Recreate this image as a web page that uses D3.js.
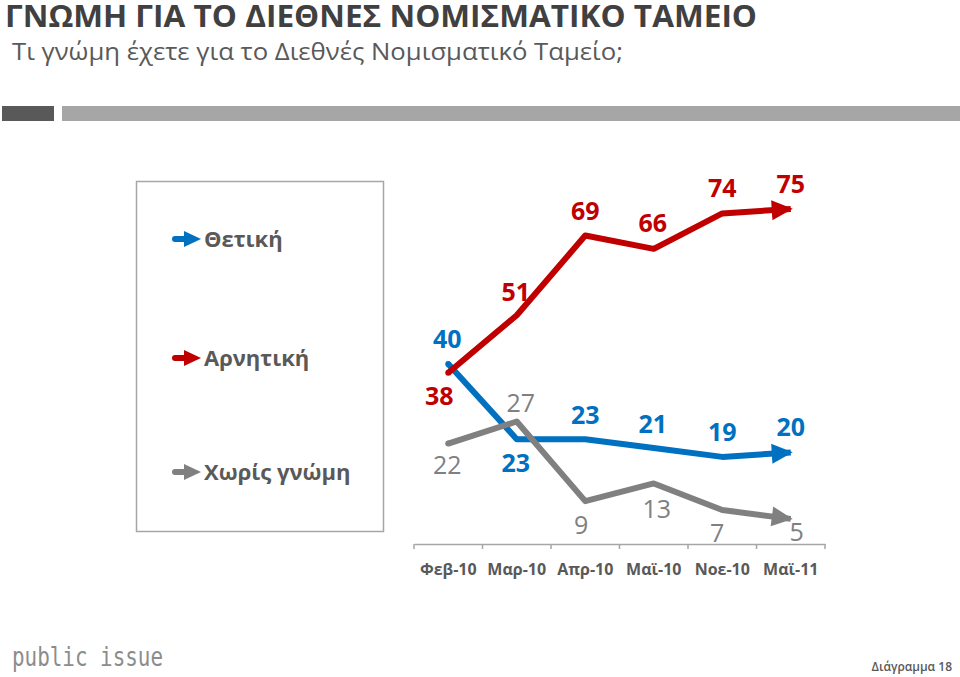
<!DOCTYPE html>
<html><head><meta charset="utf-8">
<script src="https://cdn.jsdelivr.net/npm/d3@7"></script>
<style>body{margin:0;background:#fff}svg{display:block}</style>
</head><body>
<script>
const categories = ["Φεβ-10","Μαρ-10","Απρ-10","Μαϊ-10","Νοε-10","Μαϊ-11"];
const seriesNames = ["Θετική","Αρνητική","Χωρίς γνώμη"];
const positive = [40,23,23,21,19,20];
const negative = [38,51,69,66,74,75];
const noOpinion = [22,27,9,13,7,5];
const title = "ΓΝΩΜΗ ΓΙΑ ΤΟ ΔΙΕΘΝΕΣ ΝΟΜΙΣΜΑΤΙΚΟ ΤΑΜΕΙΟ";
const subtitle = "Τι γνώμη έχετε για το Διεθνές Νομισματικό Ταμείο;";

// label placement (layout only)
const posOff = [[-1,-25],[-1,24],[0,-24],[-1,-24],[0,-25],[0,-25]];
const negOff = [[-9,23],[-1,-23],[0,-25],[-1,-26],[0,-25],[0,-25]];
const noOff  = [[-1,21],[4,-18],[-4,24],[3,26],[-5,23],[6,13]];

const W=960,H=677;
const svg=d3.select("body").append("svg").attr("width",W).attr("height",H);
const FONT="'Open Sans', 'Noto Sans', sans-serif";

svg.append("text").attr("x",5).attr("y",26.5).attr("font-family",FONT).attr("font-weight",700)
  .attr("font-size",29.5).attr("fill","#404040").attr("textLength",752).attr("lengthAdjust","spacingAndGlyphs").text(title);
svg.append("text").attr("x",12).attr("y",59.5).attr("font-family",FONT)
  .attr("font-size",24).attr("fill","#595959").attr("textLength",611).attr("lengthAdjust","spacingAndGlyphs").text(subtitle);

svg.append("rect").attr("x",2).attr("y",106).attr("width",52).attr("height",15).attr("fill","#595959");
svg.append("rect").attr("x",62).attr("y",106).attr("width",898).attr("height",15).attr("fill","#A6A6A6");

const colors={pos:"#0070C0",neg:"#C00000",no:"#808080"};

// legend box
svg.append("rect").attr("x",136.5).attr("y",181.5).attr("width",247).attr("height",350)
  .attr("fill","#fff").attr("stroke","#A6A6A6").attr("stroke-width",1.5);
const legendItems=[{n:seriesNames[0],c:colors.pos,y:239},{n:seriesNames[1],c:colors.neg,y:358},{n:seriesNames[2],c:colors.no,y:472}];
legendItems.forEach(d=>{
  const g=svg.append("g");
  g.append("line").attr("x1",175).attr("x2",186).attr("y1",d.y).attr("y2",d.y).attr("stroke",d.c).attr("stroke-width",6).attr("stroke-linecap","round");
  g.append("path").attr("d",`M184,${d.y-8}L201,${d.y}L184,${d.y+8}Z`).attr("fill",d.c);
  g.append("text").attr("x",204).attr("y",d.y).attr("dy","0.36em").attr("font-family",FONT).attr("font-weight",700)
   .attr("font-size",22).attr("fill","#595959").text(d.n);
});

const x=d3.scaleBand().domain(categories).range([414,825]).padding(0);
const y=d3.scaleLinear().domain([0,75]).range([541,209]);
const step=x.step();

// axis
const ax=svg.append("g").attr("transform","translate(0,544)")
  .call(d3.axisBottom(x).tickSize(5).tickSizeOuter(0));
ax.select(".domain").attr("stroke","#A6A6A6").attr("stroke-width",1.5);
ax.selectAll(".tick line").attr("x1",-step/2).attr("x2",-step/2).attr("stroke","#A6A6A6").attr("stroke-width",1.5);
ax.append("line").attr("x1",x.range()[1]).attr("x2",x.range()[1]).attr("y1",0).attr("y2",5).attr("stroke","#A6A6A6").attr("stroke-width",1.5);
ax.selectAll(".tick text").attr("y",25).attr("dy","0.36em").attr("font-family",FONT).attr("font-weight",700)
  .attr("font-size",16).attr("fill","#595959");

const defs=svg.append("defs");
Object.entries(colors).forEach(([k,c])=>{
  defs.append("marker").attr("id","arr-"+k).attr("markerUnits","userSpaceOnUse").attr("markerWidth",30).attr("markerHeight",30)
    .attr("viewBox","-25 -15 30 30").attr("refX",0).attr("refY",0).attr("orient","auto")
    .append("path").attr("d","M-19,-10L2,0L-19,10Z").attr("fill",c);
  defs.append("marker").attr("id","cap-"+k).attr("markerUnits","userSpaceOnUse").attr("markerWidth",10).attr("markerHeight",10)
    .attr("viewBox","-5 -5 10 10").attr("refX",0).attr("refY",0)
    .append("circle").attr("r",3).attr("fill",c);
});

const line=d3.line().x((d,i)=>x(categories[i])+step/2).y(d=>y(d));
const series=[
  {k:"pos",v:positive,off:posOff,bold:true},
  {k:"no",v:noOpinion,off:noOff,bold:false},
  {k:"neg",v:negative,off:negOff,bold:true}
];
series.forEach(s=>{
  svg.append("path").datum(s.v).attr("d",line).attr("fill","none").attr("stroke",colors[s.k])
    .attr("stroke-width",6).attr("stroke-linejoin","round").attr("stroke-linecap","butt")
    .attr("marker-end",`url(#arr-${s.k})`).attr("marker-start",`url(#cap-${s.k})`);
});
series.forEach(s=>{
  svg.append("g").selectAll("text").data(s.v).join("text")
    .attr("x",(d,i)=>x(categories[i])+step/2+s.off[i][0])
    .attr("y",(d,i)=>y(d)+s.off[i][1])
    .attr("dy","0.36em").attr("text-anchor","middle")
    .attr("font-family",FONT).attr("font-weight",s.bold?700:400)
    .attr("font-size",25).attr("fill",colors[s.k]).text(d=>d);
});

svg.append("text").attr("x",12).attr("y",666).attr("font-family","'DejaVu Sans Mono', monospace")
  .attr("font-size",26).attr("fill","#8C8C8C").attr("textLength",151).attr("lengthAdjust","spacingAndGlyphs").text("public issue");
svg.append("text").attr("x",952).attr("y",671).attr("text-anchor","end").attr("font-family",FONT).attr("font-weight",600)
  .attr("font-size",12).attr("fill","#595959").text("Διάγραμμα 18");
</script>
</body></html>
